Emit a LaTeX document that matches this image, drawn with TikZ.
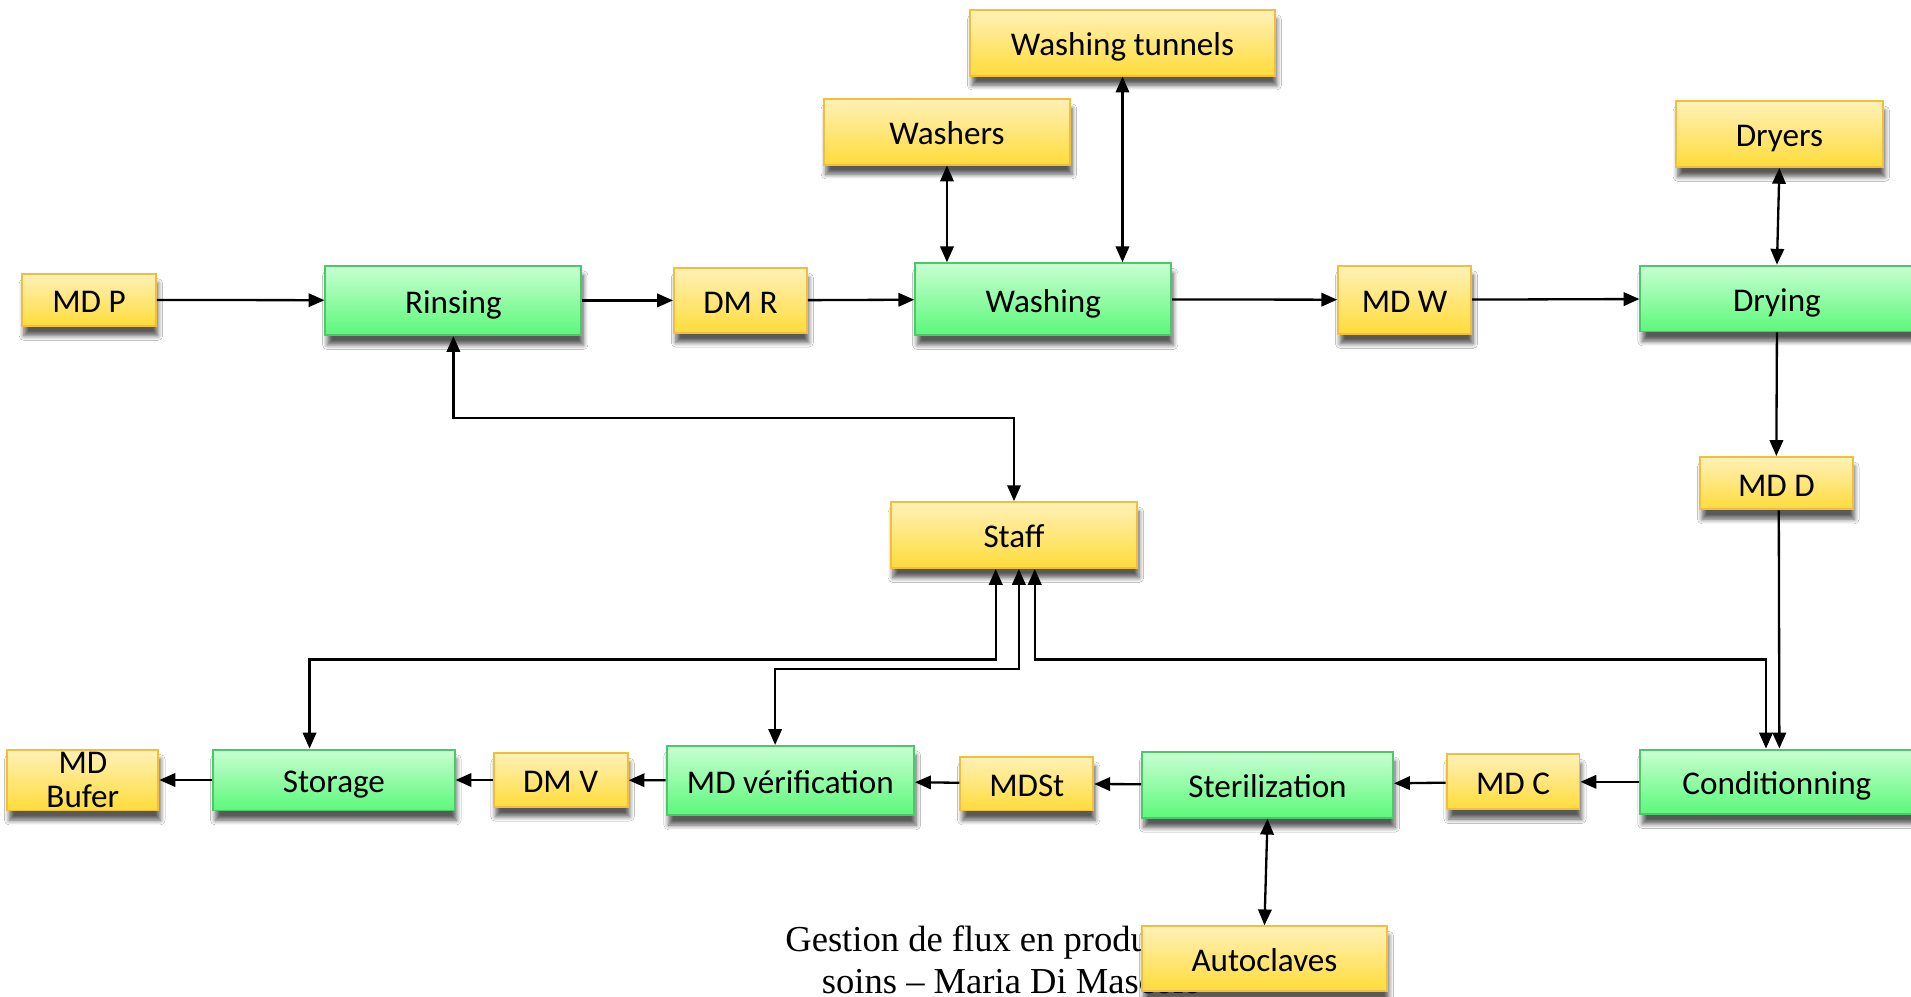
\documentclass[tikz,border=0pt]{standalone}
\usepackage{fontspec}
\setmainfont{Carlito}
\newfontfamily\footfont{Liberation Serif}
\usetikzlibrary{arrows.meta,shadows.blur}
\definecolor{ytop}{HTML}{FFF1B8}
\definecolor{ybot}{HTML}{FFDC3A}
\definecolor{ydraw}{HTML}{F2BE3C}
\definecolor{gtop}{HTML}{C8FFD2}
\definecolor{gbot}{HTML}{5CF87A}
\definecolor{gdraw}{HTML}{4CC86A}
\tikzset{
  boxcore/.style={inner sep=0pt, line width=0.8pt, font=\fontsize{13.6}{14}\selectfont,
    blur shadow={shadow xshift=0.8pt, shadow yshift=-4pt, shadow blur steps=6, shadow opacity=65}},
  basebox/.style={boxcore, text height=12pt, text depth=1.4pt},
  ycol/.style={draw=ydraw, top color=ytop, bottom color=ybot},
  gcol/.style={draw=gdraw, top color=gtop, bottom color=gbot},
  ybox/.style={basebox, ycol},
  gbox/.style={basebox, gcol},
  arr/.style={line width=0.95pt, -{Triangle[length=6.5pt,width=5.5pt]}},
  darr/.style={line width=0.95pt, {Triangle[length=6.5pt,width=5.5pt]}-{Triangle[length=6.5pt,width=5.5pt]}},
  foot/.style={anchor=base west, inner sep=0pt, font=\footfont\fontsize{15}{17}\selectfont},
}
\begin{document}
\begin{tikzpicture}[x=0.5pt,y=-0.5pt]
\fill[white] (0,0) rectangle (1568,818);
\useasboundingbox (0,0) rectangle (1568,818);

% footer text (partly hidden behind Autoclaves)
\begin{scope}
\clip (0,720) rectangle (936,795);
\node[foot] (foot1) at (644,781) {Gestion de flux en production de};
\end{scope}
\node[foot] (foot2) at (674,815) {soins – Maria Di Mascolo};

% top row
\node[ybox, minimum width=55pt, minimum height=21.5pt] (mdp) at (73,246) {MD P};
\node[gbox, minimum width=105pt, minimum height=28.5pt] (rinsing) at (372,246.5) {Rinsing};
\node[ybox, minimum width=54.5pt, minimum height=26.5pt] (dmr) at (607.5,246.5) {DM R};
\node[gbox, minimum width=105pt, minimum height=29.5pt] (washing) at (856,245.5) {Washing};
\node[ybox, minimum width=54.5pt, minimum height=28pt] (mdw) at (1152.5,246) {MD W};
\node[gbox, minimum width=112pt, minimum height=27pt] (drying) at (1458,245) {Drying};

\node[ybox, minimum width=101pt, minimum height=27pt] (washers) at (777,108) {Washers};
\node[ybox, minimum width=125pt, minimum height=27pt] (tunnels) at (921,35) {Washing tunnels};
\node[ybox, minimum width=85pt, minimum height=27pt] (dryers) at (1460,110) {Dryers};

\node[ybox, minimum width=62.5pt, minimum height=21.5pt] (mdd) at (1457.5,396.5) {MD D};
\node[ybox, minimum width=101pt, minimum height=27pt] (staff) at (832,439) {Staff};

% bottom row
\node[boxcore, ycol, minimum width=62pt, minimum height=25pt, align=center, font=\fontsize{13.6}{15}\selectfont] (bufer) at (68,640) {MD\\[-1pt]Bufer};
\node[gbox, minimum width=99pt, minimum height=25pt] (storage) at (274,640) {Storage};
\node[ybox, minimum width=55pt, minimum height=22pt] (dmv) at (460,640) {DM V};
\node[gbox, minimum width=101.5pt, minimum height=28.5pt] (verif) at (648.5,640.5) {MD vérification};
\node[ybox, minimum width=54.5pt, minimum height=22pt] (mdst) at (842.5,643) {MDSt};
\node[gbox, minimum width=103pt, minimum height=27pt] (steril) at (1040,644) {Sterilization};
\node[ybox, minimum width=54.5pt, minimum height=22.5pt] (mdc) at (1241.5,641.5) {MD C};
\node[gbox, minimum width=112pt, minimum height=26.5pt] (cond) at (1458,641.5) {Conditionning};
\node[ybox, minimum width=100.5pt, minimum height=26.5pt] (auto) at (1037.5,786.5) {Autoclaves};

% top row flow
\draw[arr] (mdp) -- (rinsing);
\draw[arr] (rinsing) -- (dmr);
\draw[arr] (dmr) -- (washing);
\draw[arr] (washing) -- (mdw);
\draw[arr] (mdw) -- (drying);
\draw[darr] (washing.north -| washers.south) -- (washers.south);
\draw[darr] (washing.north -| tunnels.south) -- (tunnels.south);
\draw[darr] (drying.north) -- (dryers.south);
\draw[arr] (drying.south) -- (mdd.north);
\draw[arr] ([xshift=1pt]mdd.south) -- ([xshift=1pt]cond.north);

% staff links
\draw[darr] (rinsing.south) -- (372,343) -| (staff.north);
\draw[darr] (staff.south -| 817,0) -- (817,541) -| (storage.north -| 254,0);
\draw[darr] (staff.south -| 836,0) -- (836,549) -| (verif.north -| 636,0);
\draw[darr] (staff.south -| 849,0) -- (849,541) -| (cond.north -| 1449,0);

% bottom row flow
\draw[arr] (cond) -- (mdc);
\draw[arr] (mdc) -- (steril);
\draw[arr] (steril) -- (mdst);
\draw[arr] (mdst) -- (verif);
\draw[arr] (verif) -- (dmv);
\draw[arr] (dmv) -- (storage);
\draw[arr] (storage) -- (bufer);
\draw[darr] (steril.south) -- (auto.north);
\end{tikzpicture}
\end{document}
